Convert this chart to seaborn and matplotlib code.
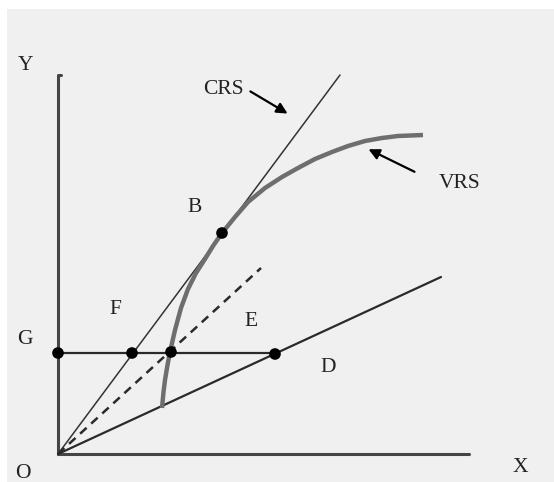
import numpy as np
import pandas as pd
import seaborn as sns
from matplotlib import pyplot as plt
from matplotlib.patches import Rectangle

# points in diagram units, origin O at (0, 0)
vrs_x = [104, 105.5, 107, 109.5, 112, 117, 123, 130, 138, 147, 155, 164, 177, 190, 207,
         224, 240, 257, 274, 290, 307, 324, 340, 365]
vrs_y = [46, 62, 74, 89, 102, 124, 146, 165, 181, 195, 208, 221, 237, 252, 266,
         277, 286, 295, 302, 308, 313, 316, 318, 319]

crs_x = [0, 282]
crs_y = [0, 379]
ray_x = [0, 383]
ray_y = [0, 177]
dash_x = [0, 203]
dash_y = [0, 186]
horiz_x = [0, 217]
horiz_y = [101, 101]
yaxis_x = [3, 0, 0]
yaxis_y = [379, 379, 0]
xaxis_x = [0, 411]
xaxis_y = [0, 0]

dot_names = ["G", "F", "E", "D", "B"]
dot_x = [0, 74, 113, 217, 164]
dot_y = [101, 101, 102, 100, 221]

label_text = ["Y", "X", "O", "G", "F", "E", "D", "B", "CRS", "VRS"]
label_x = [-32, 462, -35, -33, 57, 193, 270, 137, 165, 402]
label_y = [389, -13, -19, 114, 144, 133, 87, 246, 364, 271]

sns.set_style("white")
plt.rcParams["font.family"] = ["Liberation Serif", "DejaVu Serif"]

fig = plt.figure(figsize=(5.54, 4.82), dpi=100, facecolor="white")
fig.patches.append(Rectangle((7 / 554, 0), 1, 1 - 9 / 482, transform=fig.transFigure,
                             facecolor="#f0f0f0", edgecolor="none", zorder=-10))
ax = fig.add_axes([0, 0, 1, 1])
ax.set_facecolor("none")

def seg(xs, ys, **kw):
    sns.lineplot(x=xs, y=ys, sort=False, estimator=None, ax=ax, legend=False, **kw)

seg(xaxis_x, xaxis_y, color="#454545", linewidth=2.2)
seg(yaxis_x, yaxis_y, color="#454545", linewidth=2.2)
seg(crs_x, crs_y, color="#333333", linewidth=1.1)
seg(ray_x, ray_y, color="#2a2a2a", linewidth=1.6)
seg(horiz_x, horiz_y, color="#2a2a2a", linewidth=1.6)
seg(dash_x, dash_y, color="#2a2a2a", linewidth=1.8, linestyle=(0, (3.5, 2.5)))
seg(vrs_x, vrs_y, color="#6e6e6e", linewidth=3.2, solid_capstyle="butt",
    solid_joinstyle="round")

sns.scatterplot(x=dot_x, y=dot_y, color="black", s=70, edgecolor="none", ax=ax, zorder=5)

for t, x, y in zip(label_text, label_x, label_y):
    ax.text(x, y, t, fontsize=15.5, ha="center", va="center", color="#222222")

ax.annotate("", xy=(232, 339), xytext=(190, 364),
            arrowprops=dict(arrowstyle="-|>", color="black", lw=1.6, mutation_scale=16))
ax.annotate("", xy=(308, 306), xytext=(359, 281),
            arrowprops=dict(arrowstyle="-|>", color="black", lw=1.6, mutation_scale=16))

ax.set_xlim(-58, 496)
ax.set_ylim(-28, 454)
ax.axis("off")

fig.savefig("out.png", dpi=100, facecolor="white")
